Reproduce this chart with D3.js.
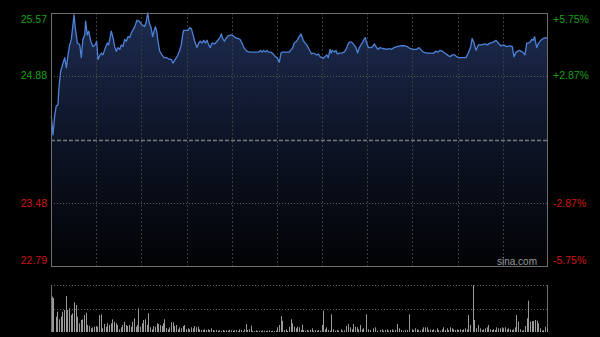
<!DOCTYPE html>
<html>
<head>
<meta charset="utf-8">
<script src="https://cdn.jsdelivr.net/npm/d3@7"></script>
<style>
  html, body { margin: 0; padding: 0; background: #000; }
  svg { display: block; }
</style>
</head>
<body>
<div id="chart"></div>
<script>
// minutes from open (330-minute session) and last price
const priceTimes = [
  0.2,1.3,2.5,3.5,4.6,5.3,6.4,8.0,9.1,10.2,
  11.3,12.4,13.5,15.3,16.1,17.5,19.1,20.1,21.2,22.4,
  23.0,24.1,25.0,26.4,27.9,29.4,30.3,31.2,32.3,33.4,
  34.5,36.1,37.4,38.3,40.0,41.2,42.3,43.4,44.5,45.6,
  46.7,47.8,48.9,50.0,51.1,52.3,53.3,55.6,57.1,58.6,
  60.4,62.2,63.3,64.2,65.3,66.4,67.5,68.4,69.3,70.2,
  71.0,72.2,73.7,75.2,76.6,77.7,78.8,79.9,81.0,82.1,
  83.7,85.2,86.5,87.4,88.1,89.6,91.0,92.1,93.2,94.3,
  95.4,96.9,98.1,99.1,100.3,101.4,102.5,103.6,104.7,105.8,
  106.9,108.7,110.2,112.2,113.1,114.0,115.1,116.2,117.7,119.5,
  121.0,122.4,124.0,125.5,126.8,128.0,129.0,130.1,131.7,133.9,
  136.1,137.9,139.0,140.1,141.2,142.3,143.4,144.5,146.1,147.6,
  148.9,150.1,151.6,152.7,153.8,156.0,158.2,160.5,161.5,163.1,
  164.4,166.0,167.5,168.7,169.8,170.8,172.0,173.1,174.2,175.3,
  176.4,177.5,178.6,179.8,180.8,181.9,183.1,184.1,185.3,185.9,
  186.8,188.1,189.2,190.1,191.4,193.0,194.6,195.9,197.0,198.1,
  199.7,201.2,202.5,203.6,204.7,205.8,207.0,207.8,208.7,209.6,
  210.7,212.3,213.6,214.7,215.8,217.0,218.5,220.3,222.9,224.4,
  226.0,227.8,229.5,232.2,234.9,236.6,238.4,240.6,242.8,244.3,
  245.5,247.2,249.5,252.1,254.3,255.4,257.0,258.3,259.8,261.4,
  263.1,264.9,266.5,268.1,269.4,270.9,272.5,273.8,275.6,277.1,
  278.7,279.6,280.9,282.2,283.8,286.0,288.2,289.7,291.5,293.7,
  295.5,297.0,298.6,300.3,302.6,304.8,306.3,307.4,308.8,311.0,
  313.2,314.7,315.9,317.0,318.1,319.2,320.2,321.1,322.5,323.8,
  325.2,326.9,328.5,329.5
];
const prices = [
  24.44,24.23,24.45,24.55,24.56,24.75,24.93,25.02,25.08,24.97,
  25.11,25.22,25.28,25.55,25.41,25.24,25.22,25.08,25.28,25.33,
  25.48,25.33,25.37,25.26,25.20,25.22,25.26,25.06,25.10,25.13,
  25.11,25.19,25.24,25.22,25.37,25.30,25.20,25.15,25.19,25.17,
  25.22,25.20,25.28,25.26,25.31,25.30,25.35,25.42,25.49,25.48,
  25.44,25.42,25.48,25.57,25.46,25.41,25.31,25.37,25.42,25.37,
  25.26,25.15,25.11,25.08,25.08,25.07,25.06,25.06,25.02,25.05,
  25.09,25.15,25.22,25.33,25.38,25.38,25.38,25.41,25.40,25.33,
  25.26,25.19,25.24,25.26,25.24,25.27,25.24,25.27,25.22,25.19,
  25.24,25.23,25.26,25.30,25.34,25.29,25.26,25.29,25.32,25.33,
  25.32,25.30,25.29,25.28,25.24,25.19,25.17,25.15,25.14,25.14,
  25.14,25.14,25.16,25.14,25.16,25.14,25.16,25.14,25.14,25.12,
  25.09,25.08,25.03,25.13,25.14,25.14,25.14,25.19,25.24,25.26,
  25.30,25.34,25.27,25.24,25.22,25.19,25.15,25.12,25.13,25.12,
  25.11,25.12,25.09,25.08,25.07,25.09,25.11,25.08,25.17,25.13,
  25.16,25.14,25.16,25.12,25.13,25.13,25.14,25.17,25.22,25.25,
  25.25,25.22,25.19,25.13,25.19,25.22,25.25,25.28,25.30,25.24,
  25.19,25.19,25.20,25.23,25.20,25.17,25.19,25.18,25.17,25.18,
  25.17,25.19,25.20,25.21,25.21,25.20,25.18,25.17,25.17,25.19,
  25.17,25.14,25.13,25.13,25.13,25.15,25.14,25.16,25.15,25.13,
  25.11,25.09,25.11,25.11,25.09,25.08,25.08,25.08,25.08,25.13,
  25.20,25.29,25.24,25.16,25.22,25.22,25.23,25.22,25.24,25.25,
  25.27,25.24,25.21,25.22,25.20,25.21,25.20,25.09,25.14,25.16,
  25.14,25.11,25.24,25.24,25.25,25.28,25.27,25.31,25.19,25.24,
  25.27,25.29,25.30,25.29
];

// volume bars (minutes from open, volume in thousand shares)
const volTimes = [
  0.5,1.5,3.1,4.2,5.3,6.4,7.5,8.6,9.8,10.8,
  12.0,13.1,14.1,15.3,16.4,17.5,18.6,19.7,20.8,21.9,
  23.0,24.1,25.2,26.4,27.4,28.6,29.7,30.7,31.9,33.0,
  34.1,35.2,36.3,37.4,38.5,39.6,40.7,41.8,43.0,44.0,
  45.2,46.3,47.3,48.5,49.6,50.7,51.8,52.9,54.0,55.1,
  56.2,57.3,58.0,59.1,60.2,61.3,62.4,63.5,64.6,65.7,
  66.9,67.9,69.1,70.2,71.2,72.4,73.5,74.6,75.2,76.4,
  77.5,78.5,79.7,80.8,81.9,83.0,84.1,85.2,86.3,87.4,
  88.5,89.6,90.8,91.8,93.0,94.1,95.2,96.3,97.4,98.5,
  99.6,100.7,101.8,102.9,104.0,105.1,106.2,107.4,108.5,109.6,
  110.7,111.8,112.9,114.0,115.1,116.2,117.3,118.4,119.5,120.6,
  121.7,122.8,123.9,125.0,126.1,127.2,128.3,129.3,130.3,131.7,
  132.6,133.7,134.8,135.9,137.0,138.1,139.2,140.3,141.4,142.5,
  143.6,144.7,145.8,146.9,148.0,149.1,150.3,151.4,152.5,153.6,
  154.7,155.8,156.9,158.0,159.1,160.2,161.4,162.5,163.6,164.7,
  165.7,166.5,167.5,168.7,169.8,170.8,172.0,173.1,174.2,175.3,
  176.4,177.5,178.6,179.8,180.8,181.9,182.6,184.1,185.0,185.9,
  187.4,188.6,189.7,190.8,192.4,193.4,194.6,195.9,197.4,198.5,
  199.7,200.7,201.9,203.0,204.1,205.2,206.3,207.4,209.0,210.3,
  211.8,213.6,215.1,216.7,218.5,219.6,220.7,221.8,222.9,224.0,
  225.1,226.2,227.3,228.4,229.9,231.1,232.4,233.7,235.1,236.4,
  237.7,239.5,240.6,241.7,242.8,243.9,245.0,246.1,247.2,248.3,
  249.5,250.5,251.7,252.8,253.9,255.0,256.1,257.2,258.3,259.5,
  260.5,261.7,262.7,263.8,264.9,266.1,267.1,268.3,269.4,270.5,
  271.6,272.7,273.8,275.0,276.0,277.1,278.2,280.0,280.9,282.2,
  283.8,284.9,286.0,287.1,288.2,289.3,290.4,291.5,292.6,293.7,
  294.6,295.5,297.0,298.1,299.2,300.3,301.4,302.6,303.7,304.8,
  305.9,307.0,308.2,308.8,309.9,311.5,312.6,313.7,314.8,315.9,
  316.7,318.1,319.2,320.2,321.4,322.5,323.6,324.7,325.8,326.9,
  328.0,329.1
];
const volumes = [
  353,340,153,203,127,153,203,220,360,220,
  237,170,187,297,270,153,87,120,127,170,
  193,70,60,37,47,53,60,53,170,177,
  37,80,53,87,70,87,127,103,87,70,
  27,47,70,103,70,60,70,53,103,137,
  53,70,237,53,87,120,127,70,187,47,
  27,60,53,87,80,70,60,87,127,37,
  27,47,97,97,60,70,27,47,37,60,
  70,27,37,27,47,37,60,47,53,27,
  20,20,27,20,27,20,37,20,13,20,
  13,17,13,20,13,17,13,20,17,13,
  17,20,10,27,20,10,27,80,20,27,
  63,13,10,17,10,13,10,17,13,10,
  13,17,10,13,10,13,47,70,160,113,
  20,27,10,53,127,87,53,37,53,47,
  20,73,20,13,20,13,20,37,13,20,
  13,20,13,70,213,27,47,20,13,177,
  27,13,20,13,27,13,17,60,80,47,
  27,80,53,47,27,70,27,37,177,27,
  20,37,47,13,20,27,13,20,27,13,
  20,27,13,20,80,37,20,13,20,20,
  177,27,20,37,27,20,13,27,47,47,
  47,20,27,20,27,13,37,20,13,27,
  47,20,37,20,47,37,27,20,27,20,
  27,20,27,37,27,170,70,470,120,37,
  70,37,20,27,37,47,70,27,20,27,
  20,47,37,37,47,37,47,27,37,27,
  20,27,47,170,103,27,13,20,60,137,
  313,103,110,110,120,113,87,37,13,20,
  53,37
];

const prevClose = 24.18;
const priceTicks = [25.57, 24.88, 24.18, 23.48, 22.79];
const leftLabels = ["25.57", "24.88", "", "23.48", "22.79"];
const rightLabels = ["+5.75%", "+2.87%", "", "-2.87%", "-5.75%"];
const gridMinutes = [30, 60, 90, 120, 150, 180, 210, 240, 270, 300];
const sessionMinutes = 330;

const W = 600, H = 337;
const plot = { left: 51, right: 548, top: 13, bottom: 266 };
const volBox = { top: 285, bottom: 332 };

const svg = d3.select("#chart").append("svg")
  .attr("width", W).attr("height", H)
  .style("background", "#000");

const x = d3.scaleLinear().domain([0, sessionMinutes]).range([plot.left, plot.right]);
const y = d3.scaleLinear().domain([22.79, 25.57]).range([plot.bottom, plot.top]);
const yv = d3.scaleLinear().domain([0, d3.max(volumes)]).range([volBox.bottom, volBox.top]);

const data = d3.zip(priceTimes, prices).map(([t, p]) => ({ t, p }));
const vols = d3.zip(volTimes, volumes).map(([t, v]) => ({ t, v }));

// gradient for the area under the price line
const defs = svg.append("defs");
const grad = defs.append("linearGradient")
  .attr("id", "areaGrad")
  .attr("gradientUnits", "userSpaceOnUse")
  .attr("x1", 0).attr("x2", 0)
  .attr("y1", plot.top).attr("y2", plot.bottom);
grad.append("stop").attr("offset", "0%").attr("stop-color", "#1d2c50");
grad.append("stop").attr("offset", "50%").attr("stop-color", "#0d1426");
grad.append("stop").attr("offset", "100%").attr("stop-color", "#020305");

const area = d3.area()
  .x(d => x(d.t))
  .y0(plot.bottom)
  .y1(d => y(d.p));
svg.append("path")
  .datum(data)
  .attr("d", area)
  .attr("fill", "url(#areaGrad)");

// vertical grid
svg.append("g").selectAll("line")
  .data(gridMinutes)
  .join("line")
  .attr("x1", d => Math.round(x(d)) + 0.5)
  .attr("x2", d => Math.round(x(d)) + 0.5)
  .attr("y1", plot.top)
  .attr("y2", plot.bottom)
  .attr("stroke", "#3c3c3c")
  .attr("stroke-dasharray", "2,2");

// horizontal grid
svg.append("g").selectAll("line")
  .data(priceTicks.filter(v => v !== priceTicks[0] && v !== priceTicks[4]))
  .join("line")
  .attr("x1", plot.left)
  .attr("x2", plot.right)
  .attr("y1", d => Math.round(y(d)) + 0.5)
  .attr("y2", d => Math.round(y(d)) + 0.5)
  .attr("stroke", d => d === prevClose ? "#7a7a7a" : "#5a5a5a")
  .attr("stroke-width", d => d === prevClose ? 1.6 : 1)
  .attr("stroke-dasharray", d => d === prevClose ? "4,2" : "1,2");

// price line
const line = d3.line()
  .x(d => x(d.t))
  .y(d => y(d.p));
svg.append("path")
  .datum(data)
  .attr("d", line)
  .attr("fill", "none")
  .attr("stroke", "#4d82d8")
  .attr("stroke-width", 1.3)
  .attr("stroke-linejoin", "round");

// frame
svg.append("rect")
  .attr("x", plot.left + 0.5)
  .attr("y", plot.top + 0.5)
  .attr("width", plot.right - plot.left - 1)
  .attr("height", plot.bottom - plot.top)
  .attr("fill", "none")
  .attr("stroke", "#6e6e6e");

// axis labels
const font = "'Liberation Sans', Arial, sans-serif";
const labelY = v => Math.max(plot.top + 6, Math.min(plot.bottom - 6, y(v))) + 3.5;
svg.append("g").selectAll("text")
  .data(priceTicks.map((v, i) => ({ v, s: leftLabels[i] })).filter(d => d.s))
  .join("text")
  .attr("x", 47)
  .attr("y", d => labelY(d.v))
  .attr("text-anchor", "end")
  .attr("font-family", font)
  .attr("font-size", 10.5)
  .attr("fill", d => d.v > prevClose ? "#16a016" : "#d01414")
  .text(d => d.s);
svg.append("g").selectAll("text")
  .data(priceTicks.map((v, i) => ({ v, s: rightLabels[i] })).filter(d => d.s))
  .join("text")
  .attr("x", 553)
  .attr("y", d => labelY(d.v))
  .attr("font-family", font)
  .attr("font-size", 10.5)
  .attr("fill", d => d.v > prevClose ? "#16a016" : "#d01414")
  .text(d => d.s);

svg.append("text")
  .attr("x", 537)
  .attr("y", 265)
  .attr("text-anchor", "end")
  .attr("font-family", font)
  .attr("font-size", 10)
  .attr("fill", "#9a9a9a")
  .text("sina.com");

// volume panel
svg.append("g").selectAll("line")
  .data([volBox.top, (volBox.top + volBox.bottom) / 2])
  .join("line")
  .attr("x1", plot.left)
  .attr("x2", plot.right)
  .attr("y1", d => Math.round(d) + 0.5)
  .attr("y2", d => Math.round(d) + 0.5)
  .attr("stroke", "#5a5a5a")
  .attr("stroke-dasharray", "1,2");
svg.append("g").selectAll("line")
  .data([plot.left + 0.5, plot.right - 0.5])
  .join("line")
  .attr("x1", d => d).attr("x2", d => d)
  .attr("y1", volBox.top).attr("y2", volBox.bottom)
  .attr("stroke", "#6e6e6e");

svg.append("g").selectAll("rect")
  .data(vols)
  .join("rect")
  .attr("x", d => Math.round(x(d.t)))
  .attr("y", d => yv(d.v))
  .attr("width", 1)
  .attr("height", d => volBox.bottom - yv(d.v))
  .attr("fill", "#999999");
</script>
</body>
</html>
